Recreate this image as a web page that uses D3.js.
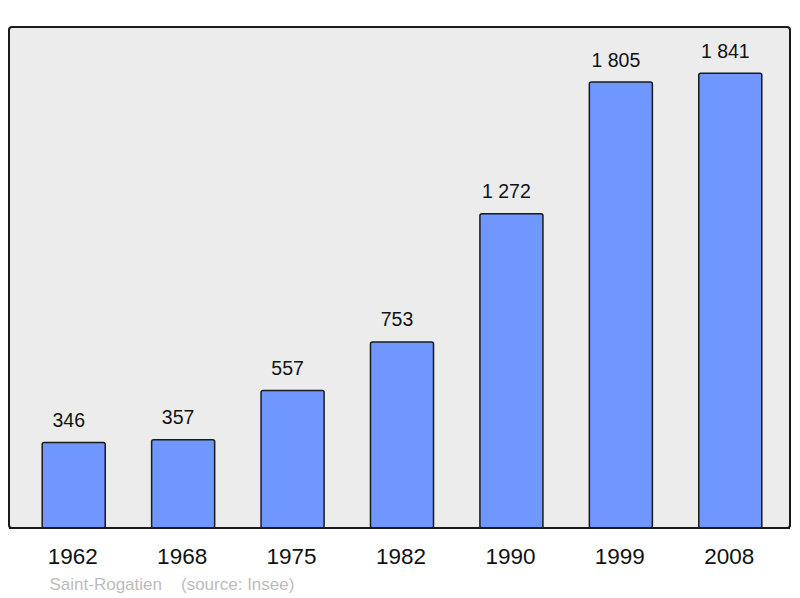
<!DOCTYPE html>
<html><head><meta charset="utf-8">
<script src="https://cdn.jsdelivr.net/npm/d3@7"></script>
<style>body{margin:0;background:#fff}svg{display:block}</style>
</head><body>
<script>
const years = ["1962","1968","1975","1982","1990","1999","2008"];
const population = [346,357,557,753,1272,1805,1841];
const valueLabels = ["346","357","557","753","1 272","1 805","1 841"];
const commune = "Saint-Rogatien";
const sourceText = "(source: Insee)";

const W = 800, H = 598;
const svg = d3.select("body").append("svg").attr("width", W).attr("height", H);
const font = "'Liberation Sans', Arial, sans-serif";

const frame = {x0: 9, y0: 27, x1: 790, y1: 528};
svg.append("rect").attr("x", frame.x0).attr("y", frame.y0)
  .attr("width", frame.x1 - frame.x0).attr("height", frame.y1 - frame.y0)
  .attr("rx", 3).attr("fill", "#ececec").attr("stroke", "#1a1a1a").attr("stroke-width", 2);

const x = d3.scaleBand().domain(years).range([19, 785]).paddingInner(0.424).paddingOuter(0.212);
const y = d3.scaleLinear().domain([0, 2028]).range([frame.y1, frame.y0]);

const data = years.map((yr, i) => ({yr, v: population[i], lab: valueLabels[i]}));

svg.selectAll("rect.bar").data(data).enter().append("rect").attr("class", "bar")
  .attr("x", d => x(d.yr)).attr("y", d => y(d.v))
  .attr("width", x.bandwidth()).attr("height", d => y(0) - y(d.v))
  .attr("rx", 2).attr("fill", "#7096ff").attr("stroke", "#1a1a1a").attr("stroke-width", 1.5);

svg.selectAll("text.val").data(data).enter().append("text").attr("class", "val")
  .attr("x", d => x(d.yr) + x.bandwidth() / 2 - 5).attr("y", d => y(d.v) - 15.5)
  .attr("text-anchor", "middle").attr("font-family", font).attr("font-size", 19.5)
  .attr("fill", "#111").text(d => d.lab);

svg.append("line").attr("x1", frame.x0).attr("x2", frame.x1).attr("y1", frame.y1).attr("y2", frame.y1)
  .attr("stroke", "#1a1a1a").attr("stroke-width", 2);

const xAxis = svg.append("g").attr("transform", `translate(0,${frame.y1})`)
  .call(d3.axisBottom(x).tickSize(0).tickPadding(0));
xAxis.select(".domain").remove();
xAxis.selectAll("text").attr("dy", null).attr("y", 36).attr("dx", -1)
  .attr("font-family", font).attr("font-size", 22.5).attr("fill", "#111");

svg.append("text").attr("x", 49.5).attr("y", 590)
  .attr("font-family", font).attr("font-size", 17).attr("fill", "#bcbcbc")
  .text(commune);
svg.append("text").attr("x", 181).attr("y", 590)
  .attr("font-family", font).attr("font-size", 17).attr("fill", "#bcbcbc")
  .text(sourceText);
</script>
</body></html>
